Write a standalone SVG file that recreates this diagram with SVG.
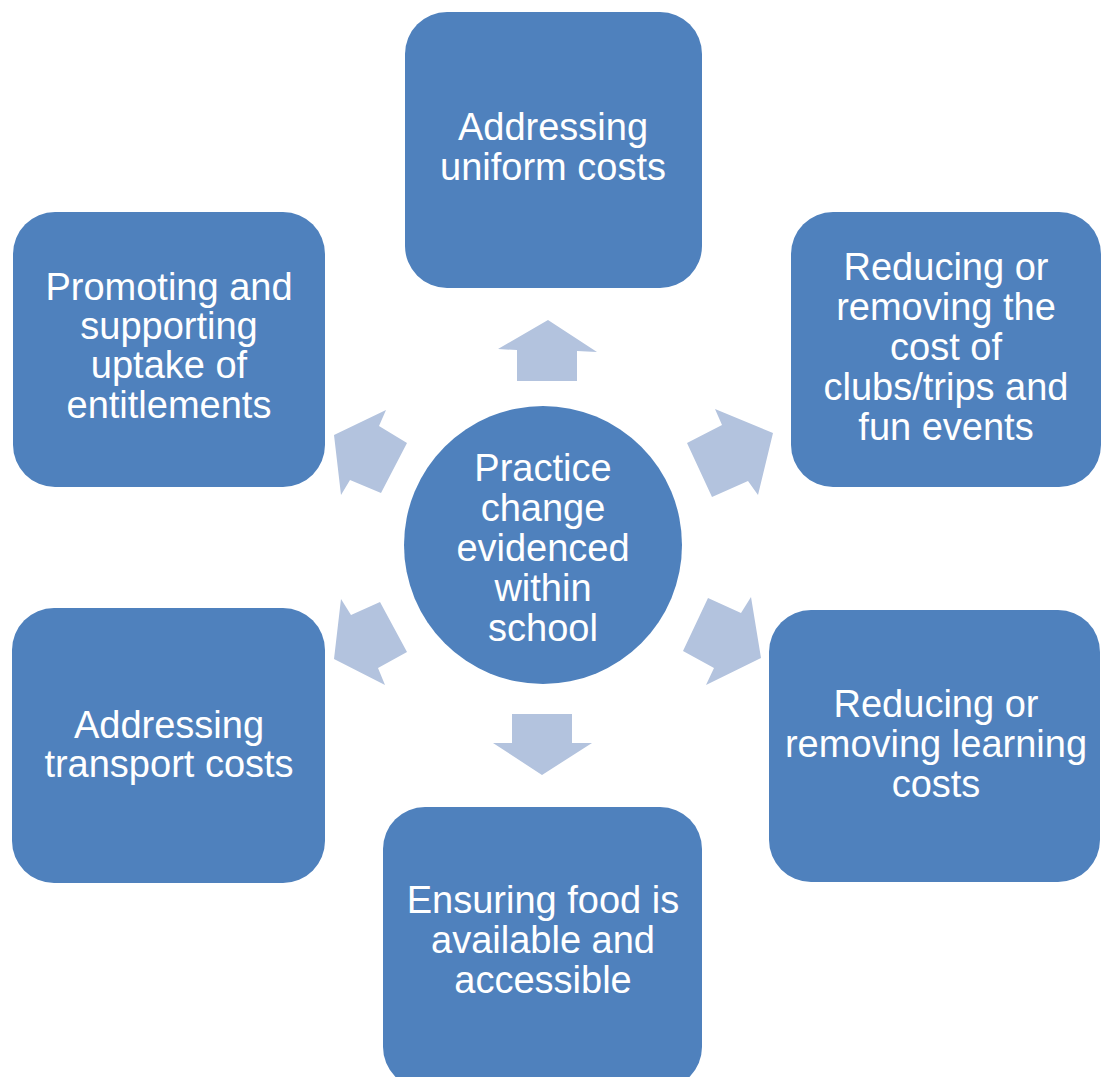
<svg xmlns="http://www.w3.org/2000/svg" width="1101" height="1077" viewBox="0 0 1101 1077">
<style>
.box{fill:#4F81BD;}
.arr{fill:#B3C3DE;}
text{font-family:"Liberation Sans",Arial,sans-serif;font-size:38px;fill:#FFFFFF;text-anchor:middle;}
</style>
<rect width="1101" height="1077" fill="#FFFFFF"/>
<g id="connectors">
<polygon class="arr" points="517,381 517,350 498,349 548,320 597,352 577,351 577,381"/>
<polygon class="arr" points="512,714 572,714 572,743 592,743 542,775 493,743 512,743"/>
<polygon class="arr" points="687,443 722,425 715,409 773,433 758,495 748,481 712,497"/>
<polygon class="arr" points="407,443 379,426 386,410 334,435 341,495 350,480 381,493"/>
<polygon class="arr" points="380,602 351,615 341,599 334,659 385,685 378,668 407,652"/>
<polygon class="arr" points="708,598 741,613 751,597 761,658 706,685 714,668 683,651"/>
</g>
<g id="node-center">
<circle class="box" cx="543" cy="545" r="139"/>
<text x="543" y="481">Practice</text>
<text x="543" y="521">change</text>
<text x="543" y="561">evidenced</text>
<text x="543" y="601">within</text>
<text x="543" y="641">school</text>
</g>
<g id="node-uniform">
<rect class="box" x="405" y="12" width="297" height="276" rx="42"/>
<text x="553" y="140">Addressing</text>
<text x="553" y="180">uniform costs</text>
</g>
<g id="node-clubs">
<rect class="box" x="791" y="212" width="310" height="275" rx="42"/>
<text x="946" y="280">Reducing or</text>
<text x="946" y="320">removing the</text>
<text x="946" y="360">cost of</text>
<text x="946" y="400">clubs/trips and</text>
<text x="946" y="440">fun events</text>
</g>
<g id="node-learning">
<rect class="box" x="769" y="610" width="331" height="272" rx="42"/>
<text x="936" y="717">Reducing or</text>
<text x="936" y="757">removing learning</text>
<text x="936" y="797">costs</text>
</g>
<g id="node-food">
<rect class="box" x="383" y="807" width="319" height="282" rx="42"/>
<text x="543" y="913">Ensuring food is</text>
<text x="543" y="953">available and</text>
<text x="543" y="993">accessible</text>
</g>
<g id="node-transport">
<rect class="box" x="12" y="608" width="313" height="275" rx="42"/>
<text x="169" y="738">Addressing</text>
<text x="169" y="777">transport costs</text>
</g>
<g id="node-entitlements">
<rect class="box" x="13" y="212" width="312" height="275" rx="42"/>
<text x="169" y="300">Promoting and</text>
<text x="169" y="339">supporting</text>
<text x="169" y="378">uptake of</text>
<text x="169" y="418">entitlements</text>
</g>
</svg>
